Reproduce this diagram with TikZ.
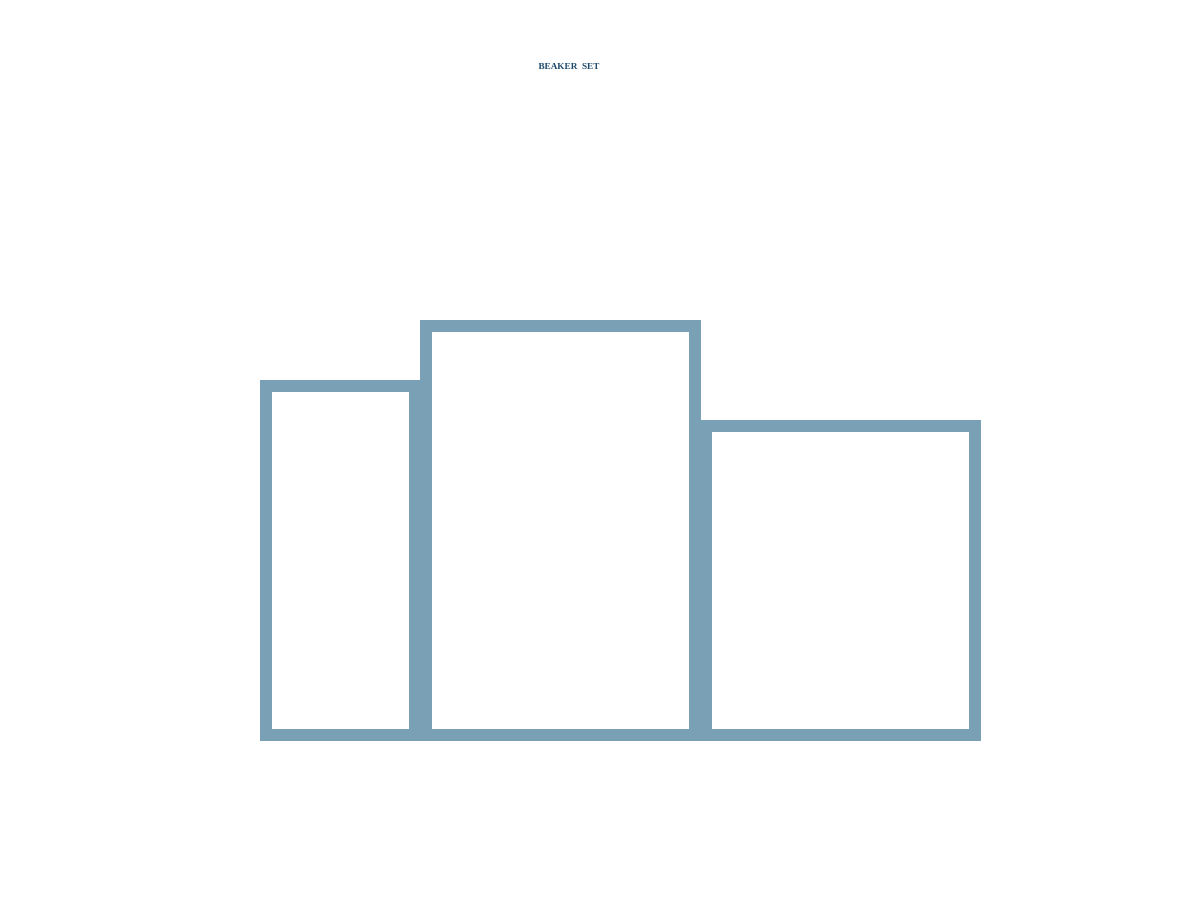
\documentclass[tikz,border=0pt]{standalone}
\usepackage{fontspec}
\setmainfont{Liberation Serif}
\definecolor{beaker}{HTML}{7AA0B5}
\definecolor{titleblue}{HTML}{1F4A6B}
\tikzset{
  beakerbox/.style={draw=beaker, line width=6pt, fill=none, inner sep=0pt, minimum width=0pt},
  titletext/.style={text=titleblue, font=\fontsize{4.6}{5}\selectfont\bfseries, inner sep=0pt}
}
\begin{document}
\begin{tikzpicture}[x=0.5pt,y=-0.5pt]
\useasboundingbox (0,0) rectangle (1200,900);
\draw[beakerbox] (266,386) rectangle (415,735);
\draw[beakerbox] (706,426) rectangle (975,735);
\draw[beakerbox] (426,326) rectangle (695,735);
\node[titletext] (title) at (569,66) {BEAKER\ \ SET};
\end{tikzpicture}
\end{document}
